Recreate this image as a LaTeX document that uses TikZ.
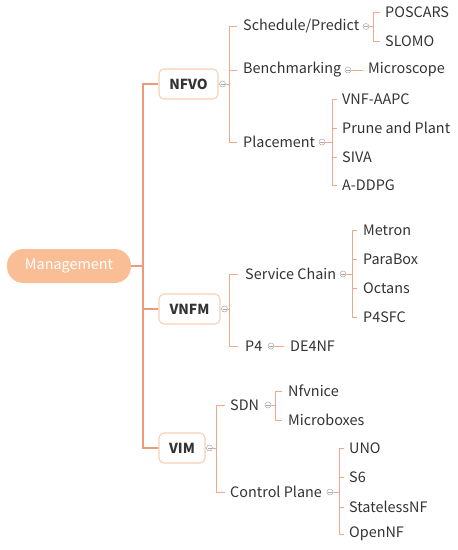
\documentclass[tikz,border=0pt]{standalone}
\usepackage{fontspec}
\setmainfont{Noto Sans CJK SC}
\definecolor{trunkc}{HTML}{EE9A78}
\definecolor{linec}{HTML}{F0A988}
\definecolor{boxc}{HTML}{F8CFB5}
\definecolor{mgc}{HTML}{F9BE96}
\definecolor{txt}{HTML}{333333}
\definecolor{togc}{HTML}{A8A8A8}
\tikzset{
  lbl/.style={font=\fontsize{14.4}{17}\selectfont, text=txt, inner xsep=0pt, inner ysep=2pt, anchor=west},
  topbox/.style={draw=boxc, line width=1.1pt, rounded corners=5pt, fill=white, font=\fontsize{13.8}{17}\selectfont\bfseries, text=txt, minimum height=30pt, inner xsep=0pt},
  br/.style={draw=linec, line width=0.9pt},
  trunk/.style={draw=trunkc, line width=1.8pt},
  tog/.style={circle, draw=togc, line width=0.5pt, minimum size=6pt, inner sep=0pt,
    path picture={\draw[togc, line width=0.5pt] ([xshift=1pt]path picture bounding box.west) -- ([xshift=-1pt]path picture bounding box.east);}}
}
\begin{document}
\begin{tikzpicture}[x=1pt,y=-1pt]
\useasboundingbox (0,0) rectangle (458,550);
% root
\node[fill=mgc, rounded corners=16.5pt, minimum width=124pt, minimum height=34pt, inner sep=0pt,
  font=\fontsize{14.4}{17}\selectfont, text=white] (mg) at (69,266) {Management};
% top boxes
\node[topbox, minimum width=59pt] (nfvo) at (188.5,84) {NFVO};
\node[topbox, minimum width=61pt] (vnfm) at (189.5,309) {VNFM};
\node[topbox, minimum width=46pt] (vim) at (182,448) {VIM};
\draw[trunk] (mg.east) -- ++(12,0) |- (nfvo.west);
\draw[trunk] (mg.east) -- ++(12,0) |- (vnfm.west);
\draw[trunk] (mg.east) -- ++(12,0) |- (vim.west);
% toggles
\node[tog] (tnfvo) at (222.5,84) {};
\node[tog] (tvnfm) at (224.5,309) {};
\node[tog] (tvim) at (209.5,448) {};
\draw[br] (nfvo.east) -- (tnfvo.west);
\draw[br] (vnfm.east) -- (tvnfm.west);
\draw[br] (vim.east) -- (tvim.west);

% NFVO children
\node[lbl] (sched) at (243,26) {Schedule/Predict};
\node[lbl] (bench) at (243,70) {Benchmarking};
\node[lbl] (place) at (243,142) {Placement};
\foreach \c in {sched,bench,place}{
  \draw[br] (tnfvo.east) -- ++(4,0) |- ([xshift=-6pt]\c.west);
}
% Schedule
\node[tog] (tsched) at (366,26.5) {};
\node[lbl] (poscars) at (385,12) {POSCARS};
\node[lbl] (slomo) at (385,41) {SLOMO};
\foreach \c in {poscars,slomo}{
  \draw[br] (tsched.east) -- ++(4,0) |- ([xshift=-5pt]\c.west);
}
% Benchmarking
\node[tog] (tbench) at (348,70) {};
\node[lbl] (micro) at (368,70) {Microscope};
\draw[br] (tbench.east) -- ([xshift=-5pt]micro.west);
% Placement
\node[tog] (tplace) at (322,142) {};
\node[lbl] (vnfaapc) at (342,99) {VNF-AAPC};
\node[lbl] (prune) at (342,128) {Prune and Plant};
\node[lbl] (siva) at (342,157) {SIVA};
\node[lbl] (addpg) at (342,185) {A-DDPG};
\foreach \c in {vnfaapc,prune,siva,addpg}{
  \draw[br] (tplace.east) -- ++(7,0) |- ([xshift=-5pt]\c.west);
}

% VNFM children
\node[lbl] (sc) at (245,274) {Service Chain};
\node[lbl] (p4) at (245,346) {P4};
\foreach \c in {sc,p4}{
  \draw[br] (tvnfm.east) -- ++(2,0) |- ([xshift=-7pt]\c.west);
}
\node[tog] (tsc) at (343,274) {};
\node[lbl] (metron) at (363,230) {Metron};
\node[lbl] (parabox) at (363,259) {ParaBox};
\node[lbl] (octans) at (363,288) {Octans};
\node[lbl] (p4sfc) at (363,317) {P4SFC};
\foreach \c in {metron,parabox,octans,p4sfc}{
  \draw[br] (tsc.east) -- ++(6,0) |- ([xshift=-6pt]\c.west);
}
\node[tog] (tp4) at (271,346) {};
\node[lbl] (de4nf) at (290,346) {DE4NF};
\draw[br] (tp4.east) -- ([xshift=-6pt]de4nf.west);

% VIM children
\node[lbl] (sdn) at (230,405) {SDN};
\node[lbl] (cp) at (230,492) {Control Plane};
\foreach \c in {sdn,cp}{
  \draw[br] (tvim.east) -- ++(4,0) |- ([xshift=-5pt]\c.west);
}
\node[tog] (tsdn) at (268,405) {};
\node[lbl] (nfvnice) at (288,391) {Nfvnice};
\node[lbl] (mboxes) at (288,420) {Microboxes};
\foreach \c in {nfvnice,mboxes}{
  \draw[br] (tsdn.east) -- ++(4,0) |- ([xshift=-6pt]\c.west);
}
\node[tog] (tcp) at (330,492) {};
\node[lbl] (uno) at (349,448) {UNO};
\node[lbl] (s6) at (349,477) {S6};
\node[lbl] (sless) at (349,507) {StatelessNF};
\node[lbl] (opennf) at (349,534) {OpenNF};
\foreach \c in {uno,s6,sless,opennf}{
  \draw[br] (tcp.east) -- ++(6,0) |- ([xshift=-5pt]\c.west);
}
\end{tikzpicture}
\end{document}
